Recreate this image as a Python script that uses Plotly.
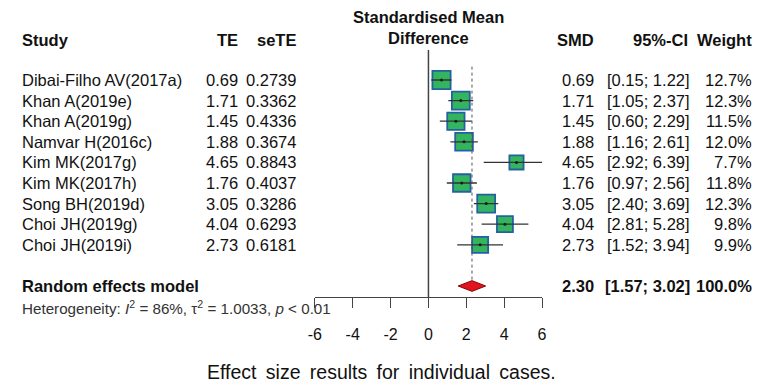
import plotly.graph_objects as go

# ---------------- data ----------------
studies = ["Dibai-Filho AV(2017a)", "Khan A(2019e)", "Khan A(2019g)", "Namvar H(2016c)",
           "Kim MK(2017g)", "Kim MK(2017h)", "Song BH(2019d)", "Choi JH(2019g)", "Choi JH(2019i)"]
te = [0.69, 1.71, 1.45, 1.88, 4.65, 1.76, 3.05, 4.04, 2.73]
sete = [0.2739, 0.3362, 0.4336, 0.3674, 0.8843, 0.4037, 0.3286, 0.6293, 0.6181]
ci_lower = [0.15, 1.05, 0.60, 1.16, 2.92, 0.97, 2.40, 2.81, 1.52]
ci_upper = [1.22, 2.37, 2.29, 2.61, 6.39, 2.56, 3.69, 5.28, 3.94]
weights = [12.7, 12.3, 11.5, 12.0, 7.7, 11.8, 12.3, 9.8, 9.9]
pooled_est = 2.30
pooled_lower = 1.57
pooled_upper = 3.02
pooled_weight = 100.0
tick_values = [-6, -4, -2, 0, 2, 4, 6]
caption = "Effect size results for individual cases."

W, H = 761, 385
FONT = "Liberation Sans, Arial, sans-serif"
FS = 16.5

rows = list(range(len(studies)))
pooled_row = len(studies) + 1

def px_x(x):
    return x / W

def px_y(y):
    return 1 - y / H

# plot region in pixels
x_left, x_right = 312.8, 543.6
y_top, y_bottom = 50, 297
row0_px, row_step = 80, 20.6
y_range = [(y_bottom - row0_px) / row_step, (y_top - row0_px) / row_step]

fig = go.Figure()

# squares
fig.add_trace(go.Scatter(
    x=te, y=rows, mode="markers",
    marker=dict(symbol="square", size=[5.1 * w ** 0.5 for w in weights],
                color="#33B55F", opacity=1, line=dict(color="#2560A0", width=1.8)),
    hoverinfo="skip", showlegend=False))

# CI lines
cx, cy = [], []
for lo, hi, r in zip(ci_lower, ci_upper, rows):
    cx += [lo, hi, None]
    cy += [r, r, None]
fig.add_trace(go.Scatter(x=cx, y=cy, mode="lines", line=dict(color="#333333", width=1.3),
                         hoverinfo="skip", showlegend=False))
# center dots
fig.add_trace(go.Scatter(x=te, y=rows, mode="markers",
                         marker=dict(symbol="circle", size=3, color="#1a1a1a"),
                         hoverinfo="skip", showlegend=False))

# diamond
dh = 0.26
fig.add_trace(go.Scatter(
    x=[pooled_lower, pooled_est, pooled_upper, pooled_est, pooled_lower],
    y=[pooled_row, pooled_row - dh, pooled_row, pooled_row + dh, pooled_row],
    mode="lines", fill="toself", fillcolor="#E0141E",
    line=dict(color="#8B0000", width=1), hoverinfo="skip", showlegend=False))

shapes = [
    dict(type="line", xref="x", yref="paper", x0=0, x1=0,
         y0=px_y(y_bottom), y1=px_y(y_top), line=dict(color="#444444", width=1.5)),
    dict(type="line", xref="x", yref="y", x0=pooled_est, x1=pooled_est,
         y0=-0.65, y1=pooled_row - 0.3, line=dict(color="#555555", width=1, dash="dot")),
]

ann = []
def add(text, x, y, xanchor, yref="y", size=FS, bold=False, color="#111111"):
    t = f"<b>{text}</b>" if bold else text
    ann.append(dict(text=t, x=px_x(x), xref="paper", y=y, yref=yref,
                    xanchor=xanchor, yanchor="middle", showarrow=False,
                    font=dict(family=FONT, size=size, color=color)))

hy = px_y(40)
add("Study", 13, hy, "left", yref="paper", bold=True)
add("TE", 237, hy, "right", yref="paper", bold=True)
add("seTE", 296, hy, "right", yref="paper", bold=True)
add("Standardised Mean", 428.5, px_y(17), "center", yref="paper", bold=True)
add("Difference", 428.5, px_y(38), "center", yref="paper", bold=True)
add("SMD", 598, hy, "right", yref="paper", bold=True)
add("95%-CI", 694, hy, "right", yref="paper", bold=True)
add("Weight", 759, hy, "right", yref="paper", bold=True)

for i, r in enumerate(rows):
    add(studies[i], 13, r, "left")
    add(f"{te[i]:.2f}", 237, r, "right")
    add(f"{sete[i]:.4f}", 296, r, "right")
    add(f"{te[i]:.2f}", 598, r, "right")
    add(f"[{ci_lower[i]:.2f}; {ci_upper[i]:.2f}]", 696, r, "right")
    add(f"{weights[i]:.1f}%", 759, r, "right")

add("Random effects model", 13, pooled_row, "left", bold=True)
add(f"{pooled_est:.2f}", 598, pooled_row, "right", bold=True)
add(f"[{pooled_lower:.2f}; {pooled_upper:.2f}]", 696, pooled_row, "right", bold=True)
add(f"{pooled_weight:.1f}%", 759, pooled_row, "right", bold=True)

add("Heterogeneity: <i>I</i><sup>2</sup> = 86%, τ<sup>2</sup> = 1.0033, <i>p</i> &lt; 0.01",
    13, px_y(307), "left", yref="paper", size=15.2, color="#333333")

caption_text = caption.replace(" ", " \u2009")
add(caption_text, 380.5, px_y(372), "center", yref="paper", size=19.5, color="#111111")

fig.update_layout(
    width=W, height=H, autosize=False,
    margin=dict(l=0, r=0, t=0, b=0),
    paper_bgcolor="white", plot_bgcolor="white",
    showlegend=False,
    shapes=shapes, annotations=ann,
    xaxis=dict(range=[-6, 6], domain=[px_x(x_left), px_x(x_right)],
               showline=True, linecolor="#444444", linewidth=1.3,
               ticks="outside", ticklen=10, tickwidth=1.3, tickcolor="#444444",
               tickvals=tick_values, ticktext=[str(v) for v in tick_values],
               ticklabelstandoff=13,
               tickfont=dict(family=FONT, size=16, color="#111111"),
               showgrid=False, zeroline=False, fixedrange=True),
    yaxis=dict(range=y_range, domain=[px_y(y_bottom), px_y(y_top)],
               visible=False, showgrid=False, zeroline=False, fixedrange=True),
)

fig.write_html("out.html", config={"displayModeBar": False},
               post_script="document.body.style.margin='0';document.body.style.overflow='hidden';")
